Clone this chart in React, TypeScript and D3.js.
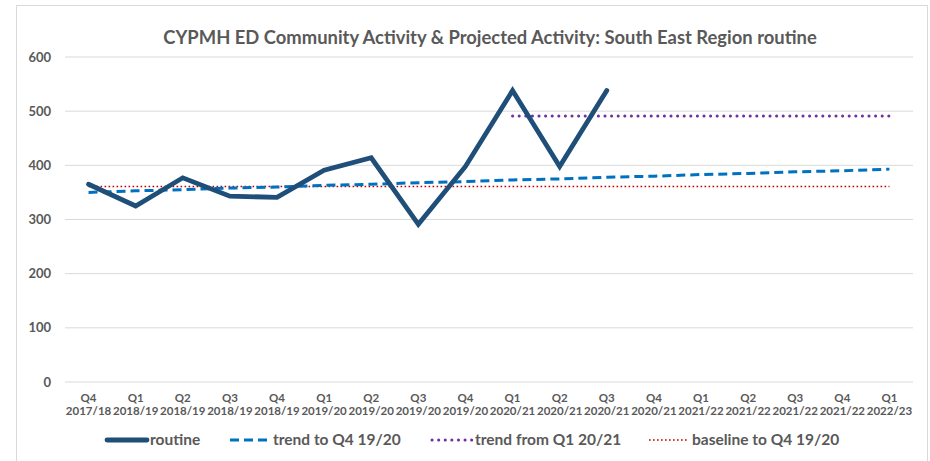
import * as d3 from "d3";

const WIDTH = 930;
const HEIGHT = 461;
const PLOT = { left: 65, right: 913, top: 57, bottom: 382 };

const QUARTERS = ["Q4", "Q1", "Q2", "Q3", "Q4", "Q1", "Q2", "Q3", "Q4", "Q1", "Q2", "Q3", "Q4", "Q1", "Q2", "Q3", "Q4", "Q1"];
const YEARS = [
  "2017/18", "2018/19", "2018/19", "2018/19", "2018/19", "2019/20", "2019/20", "2019/20", "2019/20",
  "2020/21", "2020/21", "2020/21", "2020/21", "2021/22", "2021/22", "2021/22", "2021/22", "2022/23",
];
const CATEGORIES = QUARTERS.map((q, i) => `${q} ${YEARS[i]}`);

const ROUTINE = [365, 325, 377, 343, 341, 391, 414, 291, 398, 538, 398, 538];
const TREND_TO = [350, 353, 355, 358, 360, 363, 365, 368, 370, 373, 375, 378, 380, 383, 385, 388, 390, 393];
const TREND_FROM = [null, null, null, null, null, null, null, null, null, 491, 491, 491, 491, 491, 491, 491, 491, 491];
const BASELINE = [361, 361, 361, 361, 361, 361, 361, 361, 361, 361, 361, 361, 361, 361, 361, 361, 361, 361];
const Y_TICKS = [0, 100, 200, 300, 400, 500, 600];

const FONT = "Lato, 'Open Sans', sans-serif";
const TEXT = "#595959";

type Series = { key: string; label: string; values: (number | null)[]; color: string; width: number; dash?: string; cap: "round" | "butt" };

const SERIES: Series[] = [
  { key: "baseline", label: "baseline to Q4 19/20", values: BASELINE, color: "#C00000", width: 1.6, dash: "1.6 2.4", cap: "butt" },
  { key: "trendTo", label: "trend to Q4 19/20", values: TREND_TO, color: "#0070C0", width: 3, dash: "9 5", cap: "butt" },
  { key: "trendFrom", label: "trend from Q1 20/21", values: TREND_FROM, color: "#7030A0", width: 3, dash: "0.1 6.5", cap: "round" },
  { key: "routine", label: "routine", values: ROUTINE, color: "#1F4E79", width: 4.8, cap: "round" },
];
const LEGEND_ORDER = ["routine", "trendTo", "trendFrom", "baseline"];
const LEGEND_X = [107, 230, 432, 649];

export default function App() {
  const x = d3.scaleBand<string>().domain(CATEGORIES).range([PLOT.left, PLOT.right]);
  const cx = (i: number) => (x(CATEGORIES[i]) ?? 0) + x.bandwidth() / 2;
  const y = d3.scaleLinear().domain([0, 600]).range([PLOT.bottom, PLOT.top]);
  const line = d3
    .line<number | null>()
    .defined((d) => d != null)
    .x((_, i) => cx(i))
    .y((d) => y(d as number));

  return (
    <svg width={WIDTH} height={HEIGHT} style={{ position: "absolute", left: 0, top: 0 }} fontFamily={FONT}>
      <rect x={0} y={0} width={WIDTH} height={HEIGHT} fill="#fff" />
      <rect x={16.5} y={5.5} width={911} height={470} fill="#fff" stroke="#d9d9d9" />
      <text x={490} y={44} textAnchor="middle" fontSize={18.4} fontWeight={700} fill={TEXT}>
        CYPMH  ED Community Activity &amp; Projected Activity: South East Region routine
      </text>
      {Y_TICKS.map((t) => (
        <g key={t}>
          <line x1={PLOT.left} x2={PLOT.right} y1={y(t)} y2={y(t)} stroke="#d9d9d9" strokeWidth={1} />
          <text x={51} y={y(t)} dy="0.35em" textAnchor="end" fontSize={13} fontWeight={700} fill={TEXT}>
            {t}
          </text>
        </g>
      ))}
      {CATEGORIES.map((c, i) => (
        <text key={c} x={cx(i)} textAnchor="middle" fontSize={11.5} fontWeight={700} fill={TEXT}>
          <tspan x={cx(i)} y={402}>{QUARTERS[i]}</tspan>
          <tspan x={cx(i)} y={415}>{YEARS[i]}</tspan>
        </text>
      ))}
      {SERIES.map((s) => (
        <path
          key={s.key}
          d={line(s.values) ?? ""}
          fill="none"
          stroke={s.color}
          strokeWidth={s.width}
          strokeDasharray={s.dash}
          strokeLinecap={s.cap}
          strokeLinejoin="miter"
        />
      ))}
      {LEGEND_ORDER.map((k, i) => {
        const s = SERIES.find((d) => d.key === k)!;
        const lx = LEGEND_X[i];
        return (
          <g key={k}>
            <line
              x1={lx}
              x2={lx + 40}
              y1={440}
              y2={440}
              stroke={s.color}
              strokeWidth={s.width}
              strokeDasharray={s.dash}
              strokeLinecap={s.cap}
            />
            <text x={lx + 43} y={440} dy="0.35em" fontSize={15.5} fontWeight={700} fill={TEXT}>
              {s.label}
            </text>
          </g>
        );
      })}
    </svg>
  );
}
